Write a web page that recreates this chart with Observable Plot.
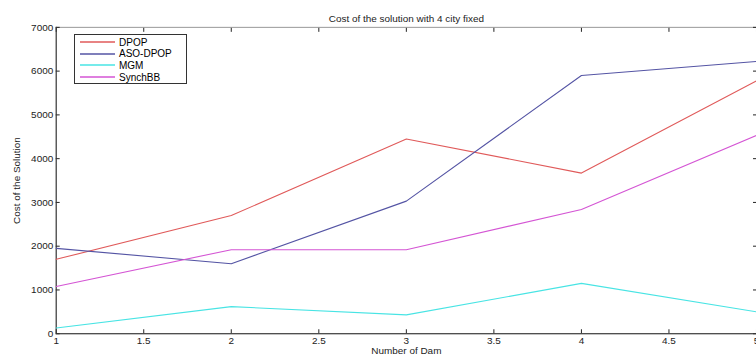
<!DOCTYPE html>
<html><head><meta charset="utf-8">
<script src="https://cdn.jsdelivr.net/npm/d3@7"></script>
<script src="https://cdn.jsdelivr.net/npm/@observablehq/plot@0.6"></script>
<style>
html,body{margin:0;padding:0;background:#fff;overflow:hidden;width:756px;height:356px;}
#wrap{position:relative;width:756px;height:356px;overflow:hidden;}
#legend{position:absolute;left:74px;top:34px;width:113px;height:50px;border:1px solid #333;background:#fff;font-family:"Liberation Sans",Arial,sans-serif;font-size:10px;box-sizing:border-box;padding-top:1.5px;}
#legend .row{display:flex;align-items:center;height:11.6px;}
#legend svg{display:block;margin-left:5px;margin-right:4px;}
</style></head>
<body><div id="wrap"><div id="chart"></div><div id="legend"></div></div>
<script>
const xs = [1, 2, 3, 4, 5];
const seriesNames = ["DPOP", "ASO-DPOP", "MGM", "SynchBB"];
const dpop = [1700, 2700, 4450, 3670, 5780];
const asoDpop = [1950, 1600, 3030, 5900, 6220];
const mgm = [130, 620, 430, 1150, 500];
const synchBB = [1080, 1920, 1920, 2840, 4530];
const colors = ["#e05a5a", "#5454a4", "#48e4e4", "#d455d4"];
const xTicks = [1, 1.5, 2, 2.5, 3, 3.5, 4, 4.5, 5];
const yTicks = [0, 1000, 2000, 3000, 4000, 5000, 6000, 7000];

const values = [dpop, asoDpop, mgm, synchBB];
const data = [];
seriesNames.forEach((s, i) => xs.forEach((x, j) => data.push({series: s, x, y: values[i][j]})));

const font = '"Liberation Sans", Arial, sans-serif';
const chart = Plot.plot({
  width: 760, height: 356,
  marginLeft: 56, marginRight: 0, marginTop: 27, marginBottom: 21,
  style: {fontFamily: font, fontSize: "10px", color: "#222", background: "#fff"},
  x: {domain: [1, 5]},
  y: {domain: [0, 7000]},
  color: {domain: seriesNames, range: colors},
  marks: [
    Plot.frame({stroke: "#999"}),
    Plot.axisX({ticks: xTicks, tickSize: -4, tickPadding: 7, tickFormat: d => String(d), label: "Number of Dam", labelAnchor: "center", labelArrow: "none", labelOffset: 20}),
    Plot.axisX({anchor: "top", ticks: xTicks, tickSize: -4, tickFormat: () => "", label: null}),
    Plot.axisY({ticks: yTicks, tickSize: -4, tickPadding: 7, tickFormat: d => String(d), label: "Cost of the Solution", labelAnchor: "center", labelArrow: "none", labelOffset: 44}),
    Plot.axisY({anchor: "right", ticks: yTicks, tickSize: -4, tickFormat: () => "", label: null}),
    Plot.ruleY([0], {stroke: "#333"}),
    Plot.ruleX([1], {stroke: "#333"}),
    Plot.line(data, {x: "x", y: "y", z: "series", stroke: "series", strokeWidth: 1.1}),
    Plot.text(["Cost of the solution with 4 city fixed"], {frameAnchor: "top", dy: -13, fontSize: 10, fill: "#222"})
  ]
});
document.getElementById("chart").appendChild(chart);

const leg = document.getElementById("legend");
seriesNames.forEach((s, i) => {
  const r = document.createElement("div"); r.className = "row";
  r.innerHTML = `<svg width="35" height="4"><line x1="0" x2="35" y1="2" y2="2" stroke="${colors[i]}" stroke-width="1.5"/></svg>`;
  const t = document.createElement("span"); t.textContent = s;
  r.appendChild(t); leg.appendChild(r);
});
</script></body></html>
